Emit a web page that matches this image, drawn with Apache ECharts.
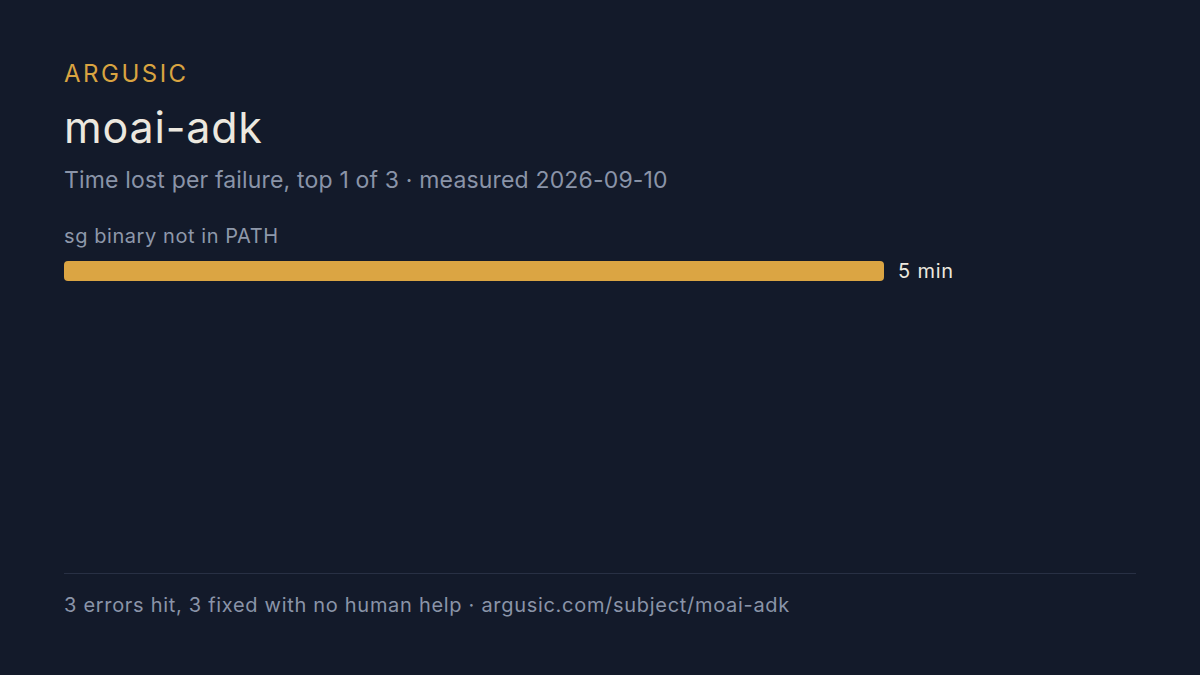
<!DOCTYPE html>
<html><head><meta charset="utf-8">
<script src="https://cdn.jsdelivr.net/npm/echarts@6/dist/echarts.min.js"></script>
<style>html,body{margin:0;padding:0;background:#131a2a;}#c{width:1200px;height:675px;}</style>
</head><body><div id="c"></div>
<script>
const brand = 'ARGUSIC';
const titleText = 'moai-adk';
const subtitleText = 'Time lost per failure, top 1 of 3 · measured 2026-09-10';
const footerText = '3 errors hit, 3 fixed with no human help · argusic.com/subject/moai-adk';
const categories = ['sg binary not in PATH'];
const values = [5];
const unit = 'min';
const axisMax = 5;

const FONT = 'Inter, "Noto Sans", sans-serif';
const chart = echarts.init(document.getElementById('c'), null, { renderer: 'svg' });
chart.setOption({
  backgroundColor: '#131a2a',
  animation: false,
  grid: { left: 64, top: 251, width: 820, height: 40 },
  xAxis: { type: 'value', min: 0, max: axisMax, show: false },
  yAxis: { type: 'category', data: categories, show: false },
  series: [{
    type: 'bar', data: values, barWidth: 20,
    itemStyle: { color: '#dba543', borderRadius: 4 },
    label: { show: true, position: 'right', distance: 14, formatter: p => p.value + ' ' + unit,
      color: '#ece8df', fontFamily: FONT, fontSize: 20 }
  }],
  graphic: [
    { type: 'text', left: 64, top: 61, style: { text: brand, fill: '#d9a441', font: '400 24px ' + FONT } },
    { type: 'text', left: 64, top: 105, style: { text: titleText, fill: '#ece8df', font: '400 43px ' + FONT } },
    { type: 'text', left: 64, top: 168, style: { text: subtitleText, fill: '#8a94a8', font: '400 23px ' + FONT } },
    { type: 'text', left: 64, top: 226, style: { text: categories[0], fill: '#8e98aa', font: '400 20px ' + FONT } },
    { type: 'rect', shape: { x: 64, y: 573, width: 1072, height: 1 }, style: { fill: '#283044' } },
    { type: 'text', left: 64, top: 595, style: { text: footerText, fill: '#8a94a8', font: '400 20px ' + FONT } }
  ]
});

const spacing = {};
spacing[brand] = 2.5;
spacing[titleText] = 0.8;
spacing[subtitleText] = 0.17;
spacing[categories[0]] = 0.57;
spacing[values[0] + ' ' + unit] = 0.8;
spacing[footerText] = 0.7;
function applySpacing() {
  document.querySelectorAll('#c svg text').forEach(t => {
    const s = spacing[t.textContent];
    if (s !== undefined) t.setAttribute('letter-spacing', s + 'px');
  });
}
chart.on('rendered', applySpacing);
applySpacing();
setTimeout(applySpacing, 0);
setTimeout(applySpacing, 100);
</script></body></html>
